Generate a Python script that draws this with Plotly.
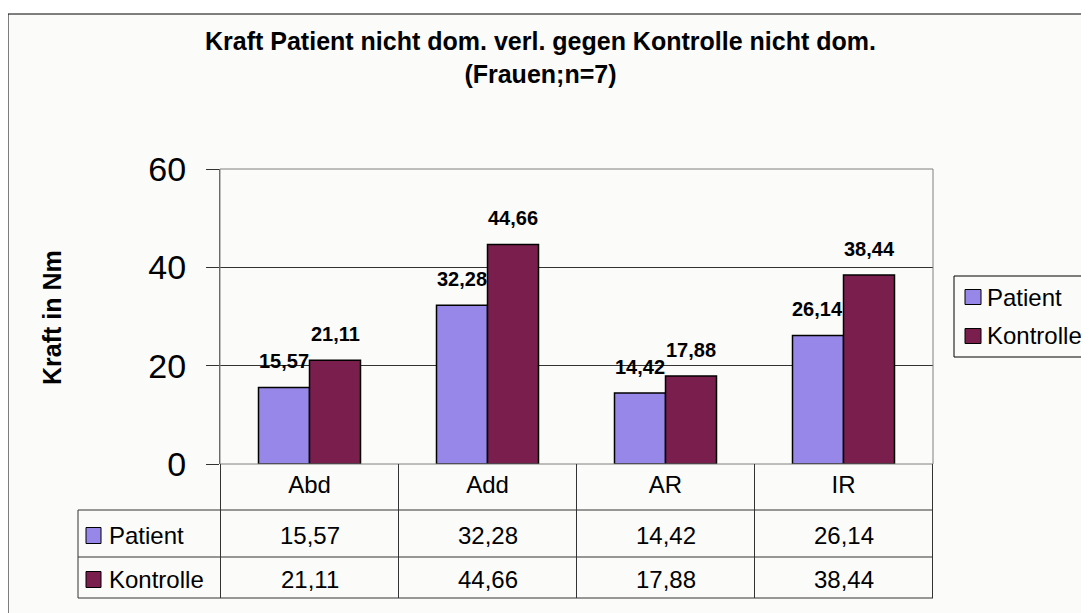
import plotly.graph_objects as go

# ---------------- data ----------------
categories = ["Abd", "Add", "AR", "IR"]
patient = [15.57, 32.28, 14.42, 26.14]
kontrolle = [21.11, 44.66, 17.88, 38.44]
series_names = ["Patient", "Kontrolle"]
y_ticks = [0, 20, 40, 60]
title_lines = ["Kraft Patient nicht dom. verl. gegen Kontrolle nicht dom.", "(Frauen;n=7)"]
y_title = "Kraft in Nm"

# ---------------- styling ----------------
OFF = 8                      # page body margin of the browser
W, H = 1089 - OFF, 613 - OFF
FONT = "Liberation Sans, Arial, sans-serif"
C_PAT = "#9787E8"
C_KON = "#7A1F4D"
PLOT_BG = "#C9CAC2"
PAPER = "#FBFBF9"
GRID = "#333333"
TABLE_LINE = "#333333"

def fx(x):
    return (x - OFF) / W

def fy(y):
    return 1 - (y - OFF) / H

def de(v):
    return f"{v:.2f}".replace(".", ",")

X0, X1, Y0, Y1 = 220, 933, 169, 464  # plot area in screen pixels
BARGAP = 0.427
cat_w = (X1 - X0) / len(categories)
bar_w = cat_w * (1 - BARGAP) / 2

series = [(series_names[0], patient, C_PAT), (series_names[1], kontrolle, C_KON)]

fig = go.Figure()
for name, vals, col in series:
    fig.add_trace(go.Bar(
        x=categories, y=vals, name=name,
        marker=dict(color=col, line=dict(color="#000000", width=1.5)),
        showlegend=False,
    ))

shapes = []
annotations = []

# outer chart frame
shapes.append(dict(type="rect", xref="paper", yref="paper",
                   x0=fx(8), x1=fx(1086), y0=fy(640), y1=fy(14),
                   fillcolor=PAPER, line=dict(color="#000000", width=1), layer="below"))

# plot area border
shapes.append(dict(type="rect", xref="paper", yref="paper",
                   x0=fx(X0), x1=fx(X1), y0=fy(Y1), y1=fy(Y0),
                   line=dict(color="#808080", width=1), layer="above"))

# data table rows
ROW_TOP, ROW1, ROW2, ROW3 = Y1, 510, 557, 598
TBL_L = 78
for yy in (ROW1, ROW2, ROW3):
    shapes.append(dict(type="line", xref="paper", yref="paper",
                       x0=fx(TBL_L), x1=fx(X1), y0=fy(yy), y1=fy(yy),
                       line=dict(color=TABLE_LINE, width=1)))
shapes.append(dict(type="line", xref="paper", yref="paper",
                   x0=fx(TBL_L), x1=fx(TBL_L), y0=fy(ROW1), y1=fy(ROW3),
                   line=dict(color=TABLE_LINE, width=1)))
for i in range(len(categories) + 1):
    shapes.append(dict(type="line", xref="x", yref="paper",
                       x0=i - 0.5, x1=i - 0.5, y0=fy(ROW_TOP), y1=fy(ROW3),
                       line=dict(color=TABLE_LINE, width=1)))

# table rows: legend keys, labels, values
row_centers = [(ROW1 + ROW2) / 2 + 2, (ROW2 + ROW3) / 2 + 2]
for (name, vals, col), rc in zip(series, row_centers):
    shapes.append(dict(type="rect", xref="paper", yref="paper",
                       x0=fx(86), x1=fx(101), y0=fy(rc + 8), y1=fy(rc - 8),
                       fillcolor=col, line=dict(color="#000000", width=1)))
    annotations.append(dict(text=name, xref="paper", yref="paper",
                            x=fx(107), y=fy(rc), xanchor="left", yanchor="middle",
                            showarrow=False, font=dict(family=FONT, size=24, color="#000")))
    for c, v in zip(categories, vals):
        annotations.append(dict(text=de(v), xref="x", yref="paper",
                                x=c, y=fy(rc), xanchor="center", yanchor="middle",
                                showarrow=False, font=dict(family=FONT, size=24, color="#000")))

# data labels above bars
for k, (name, vals, col) in enumerate(series):
    shift = (k - 0.5) * bar_w
    for c, v in zip(categories, vals):
        annotations.append(dict(text=f"<b>{de(v)}</b>", x=c, y=v, xref="x", yref="y",
                                xanchor="center", yanchor="bottom", xshift=shift, yshift=13,
                                showarrow=False, font=dict(family=FONT, size=20, color="#000")))

# y-axis title
annotations.append(dict(text=f"<b>{y_title}</b>", xref="paper", yref="paper",
                        x=fx(52), y=fy(318), textangle=-90, showarrow=False,
                        xanchor="center", yanchor="middle",
                        font=dict(family=FONT, size=25, color="#000")))

# chart title
annotations.append(dict(text="<b>" + "<br>".join(title_lines) + "</b>",
                        xref="paper", yref="paper", x=fx(540), y=fy(25),
                        xanchor="center", yanchor="top", showarrow=False,
                        font=dict(family=FONT, size=25, color="#000")))

# legend (manual, Excel style)
LG_L, LG_T, LG_R, LG_B = 954, 276, 1096, 357
shapes.append(dict(type="rect", xref="paper", yref="paper",
                   x0=fx(LG_L), x1=fx(LG_R), y0=fy(LG_B), y1=fy(LG_T),
                   fillcolor=PAPER, line=dict(color="#000000", width=1)))
for (name, vals, col), cy in zip(series, [297, 336]):
    shapes.append(dict(type="rect", xref="paper", yref="paper",
                       x0=fx(965), x1=fx(981), y0=fy(cy + 7.5), y1=fy(cy - 7.5),
                       fillcolor=col, line=dict(color="#000000", width=1)))
    annotations.append(dict(text=name, xref="paper", yref="paper",
                            x=fx(985), y=fy(cy), xanchor="left", yanchor="middle",
                            showarrow=False, font=dict(family=FONT, size=24, color="#000")))

fig.update_layout(
    width=W, height=H, autosize=False,
    margin=dict(l=0, r=0, t=0, b=0, pad=0, autoexpand=False),
    paper_bgcolor="white", plot_bgcolor=PLOT_BG,
    barmode="group", bargap=BARGAP, bargroupgap=0,
    separators=",.",
    xaxis=dict(domain=[fx(X0), fx(X1)], showgrid=False, ticks="", showline=False,
               tickfont=dict(family=FONT, size=24, color="#000"),
               ticklabelstandoff=4, fixedrange=True, automargin=False),
    yaxis=dict(domain=[fy(Y1), fy(Y0)], range=[0, 60], tickvals=y_ticks,
               showgrid=True, gridcolor=GRID, gridwidth=1, zeroline=False,
               ticks="outside", ticklen=13, tickcolor=GRID, tickwidth=1,
               showline=True, linecolor="#555555", linewidth=1,
               tickfont=dict(family=FONT, size=34, color="#000"),
               ticklabelstandoff=13, fixedrange=True, automargin=False),
    shapes=shapes, annotations=annotations,
    showlegend=False,
)

fig.write_html("out.html")
